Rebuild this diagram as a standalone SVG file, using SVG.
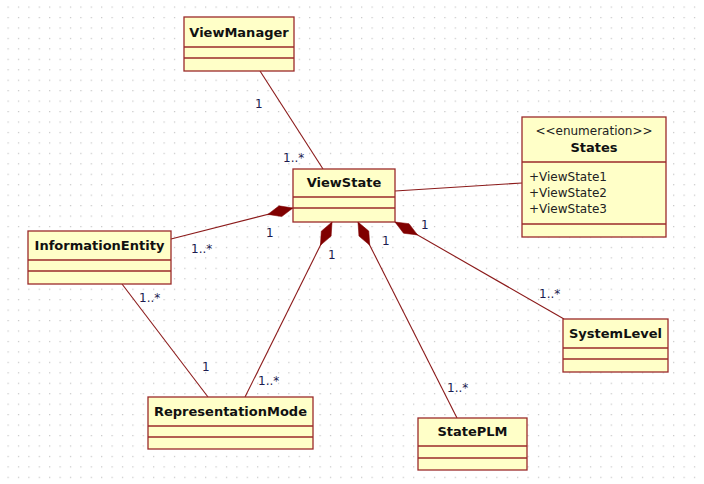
<svg xmlns="http://www.w3.org/2000/svg" width="704" height="484" viewBox="0 0 704 484">
<defs>
<pattern id="grid" x="7.5" y="6.5" width="10.4" height="10.45" patternUnits="userSpaceOnUse">
<rect x="0" y="0" width="1.2" height="1.2" fill="#c4c4c4"/>
</pattern>
<marker id="comp" markerUnits="userSpaceOnUse" markerWidth="30" markerHeight="14" refX="0" refY="6" orient="auto" viewBox="0 0 30 12" overflow="visible">
<path d="M0,6 L13,0.5 L26,6 L13,11.5 Z" fill="#800000" stroke="#800000" stroke-width="0.5"/>
</marker>
<style>
.box{fill:#ffffc8;stroke:#9b2a2a;stroke-width:1.3}
.sep{stroke:#9b2a2a;stroke-width:1.3}
.title{font-family:"DejaVu Sans",sans-serif;font-weight:bold;font-size:13px;fill:#111;text-anchor:middle}
.txt{font-family:"DejaVu Sans",sans-serif;font-size:12px;fill:#222}
.lbl{font-family:"DejaVu Sans",sans-serif;font-size:12px;fill:#1c1c50}
.conn{stroke:#8b1a1a;stroke-width:1.1;fill:none}
</style>
</defs>
<rect width="704" height="484" fill="#ffffff"/>
<rect width="704" height="484" fill="url(#grid)"/>

<g id="connectors">
<line class="conn" x1="260" y1="71" x2="323" y2="169"/>
<line class="conn" x1="395" y1="191" x2="522" y2="183"/>
<line class="conn" x1="293" y1="208" x2="171" y2="239" marker-start="url(#comp)"/>
<line class="conn" x1="332" y1="222" x2="245" y2="397" marker-start="url(#comp)"/>
<line class="conn" x1="358" y1="222" x2="457" y2="418" marker-start="url(#comp)"/>
<line class="conn" x1="395" y1="222" x2="564" y2="319" marker-start="url(#comp)"/>
<line class="conn" x1="122" y1="284" x2="208" y2="397"/>
<text class="lbl" x="255" y="108">1</text>
<text class="lbl" x="283" y="162">1..*</text>
<text class="lbl" x="266" y="237">1</text>
<text class="lbl" x="191" y="253">1..*</text>
<text class="lbl" x="328" y="259">1</text>
<text class="lbl" x="382" y="245">1</text>
<text class="lbl" x="421" y="229">1</text>
<text class="lbl" x="539" y="298">1..*</text>
<text class="lbl" x="447" y="392">1..*</text>
<text class="lbl" x="258" y="385">1..*</text>
<text class="lbl" x="202" y="371">1</text>
<text class="lbl" x="139" y="302">1..*</text>
</g>

<g id="ViewManager">
<rect class="box" x="184" y="17" width="110" height="54"/>
<line class="sep" x1="184" y1="47" x2="294" y2="47"/>
<line class="sep" x1="184" y1="58" x2="294" y2="58"/>
<text class="title" x="239" y="37">ViewManager</text>
</g>

<g id="ViewState">
<rect class="box" x="293" y="169" width="102" height="53"/>
<line class="sep" x1="293" y1="197" x2="395" y2="197"/>
<line class="sep" x1="293" y1="208" x2="395" y2="208"/>
<text class="title" x="344" y="187">ViewState</text>
</g>

<g id="States">
<rect class="box" x="522" y="117" width="144" height="120"/>
<line class="sep" x1="522" y1="162" x2="666" y2="162"/>
<line class="sep" x1="522" y1="224" x2="666" y2="224"/>
<text class="txt" x="594" y="135" text-anchor="middle">&lt;&lt;enumeration&gt;&gt;</text>
<text class="title" x="594" y="152">States</text>
<text class="txt" x="529" y="181">+ViewState1</text>
<text class="txt" x="529" y="197">+ViewState2</text>
<text class="txt" x="529" y="213">+ViewState3</text>
</g>

<g id="InformationEntity">
<rect class="box" x="28" y="231" width="143" height="53"/>
<line class="sep" x1="28" y1="260" x2="171" y2="260"/>
<line class="sep" x1="28" y1="271" x2="171" y2="271"/>
<text class="title" x="99.5" y="250">InformationEntity</text>
</g>

<g id="RepresentationMode">
<rect class="box" x="148" y="397" width="165" height="52"/>
<line class="sep" x1="148" y1="426" x2="313" y2="426"/>
<line class="sep" x1="148" y1="437" x2="313" y2="437"/>
<text class="title" x="230.5" y="416">RepresentationMode</text>
</g>

<g id="StatePLM">
<rect class="box" x="418" y="418" width="109" height="52"/>
<line class="sep" x1="418" y1="446" x2="527" y2="446"/>
<line class="sep" x1="418" y1="458" x2="527" y2="458"/>
<text class="title" x="472.5" y="436">StatePLM</text>
</g>

<g id="SystemLevel">
<rect class="box" x="563" y="319" width="105" height="53"/>
<line class="sep" x1="563" y1="348" x2="668" y2="348"/>
<line class="sep" x1="563" y1="359" x2="668" y2="359"/>
<text class="title" x="615.5" y="338">SystemLevel</text>
</g>
</svg>
